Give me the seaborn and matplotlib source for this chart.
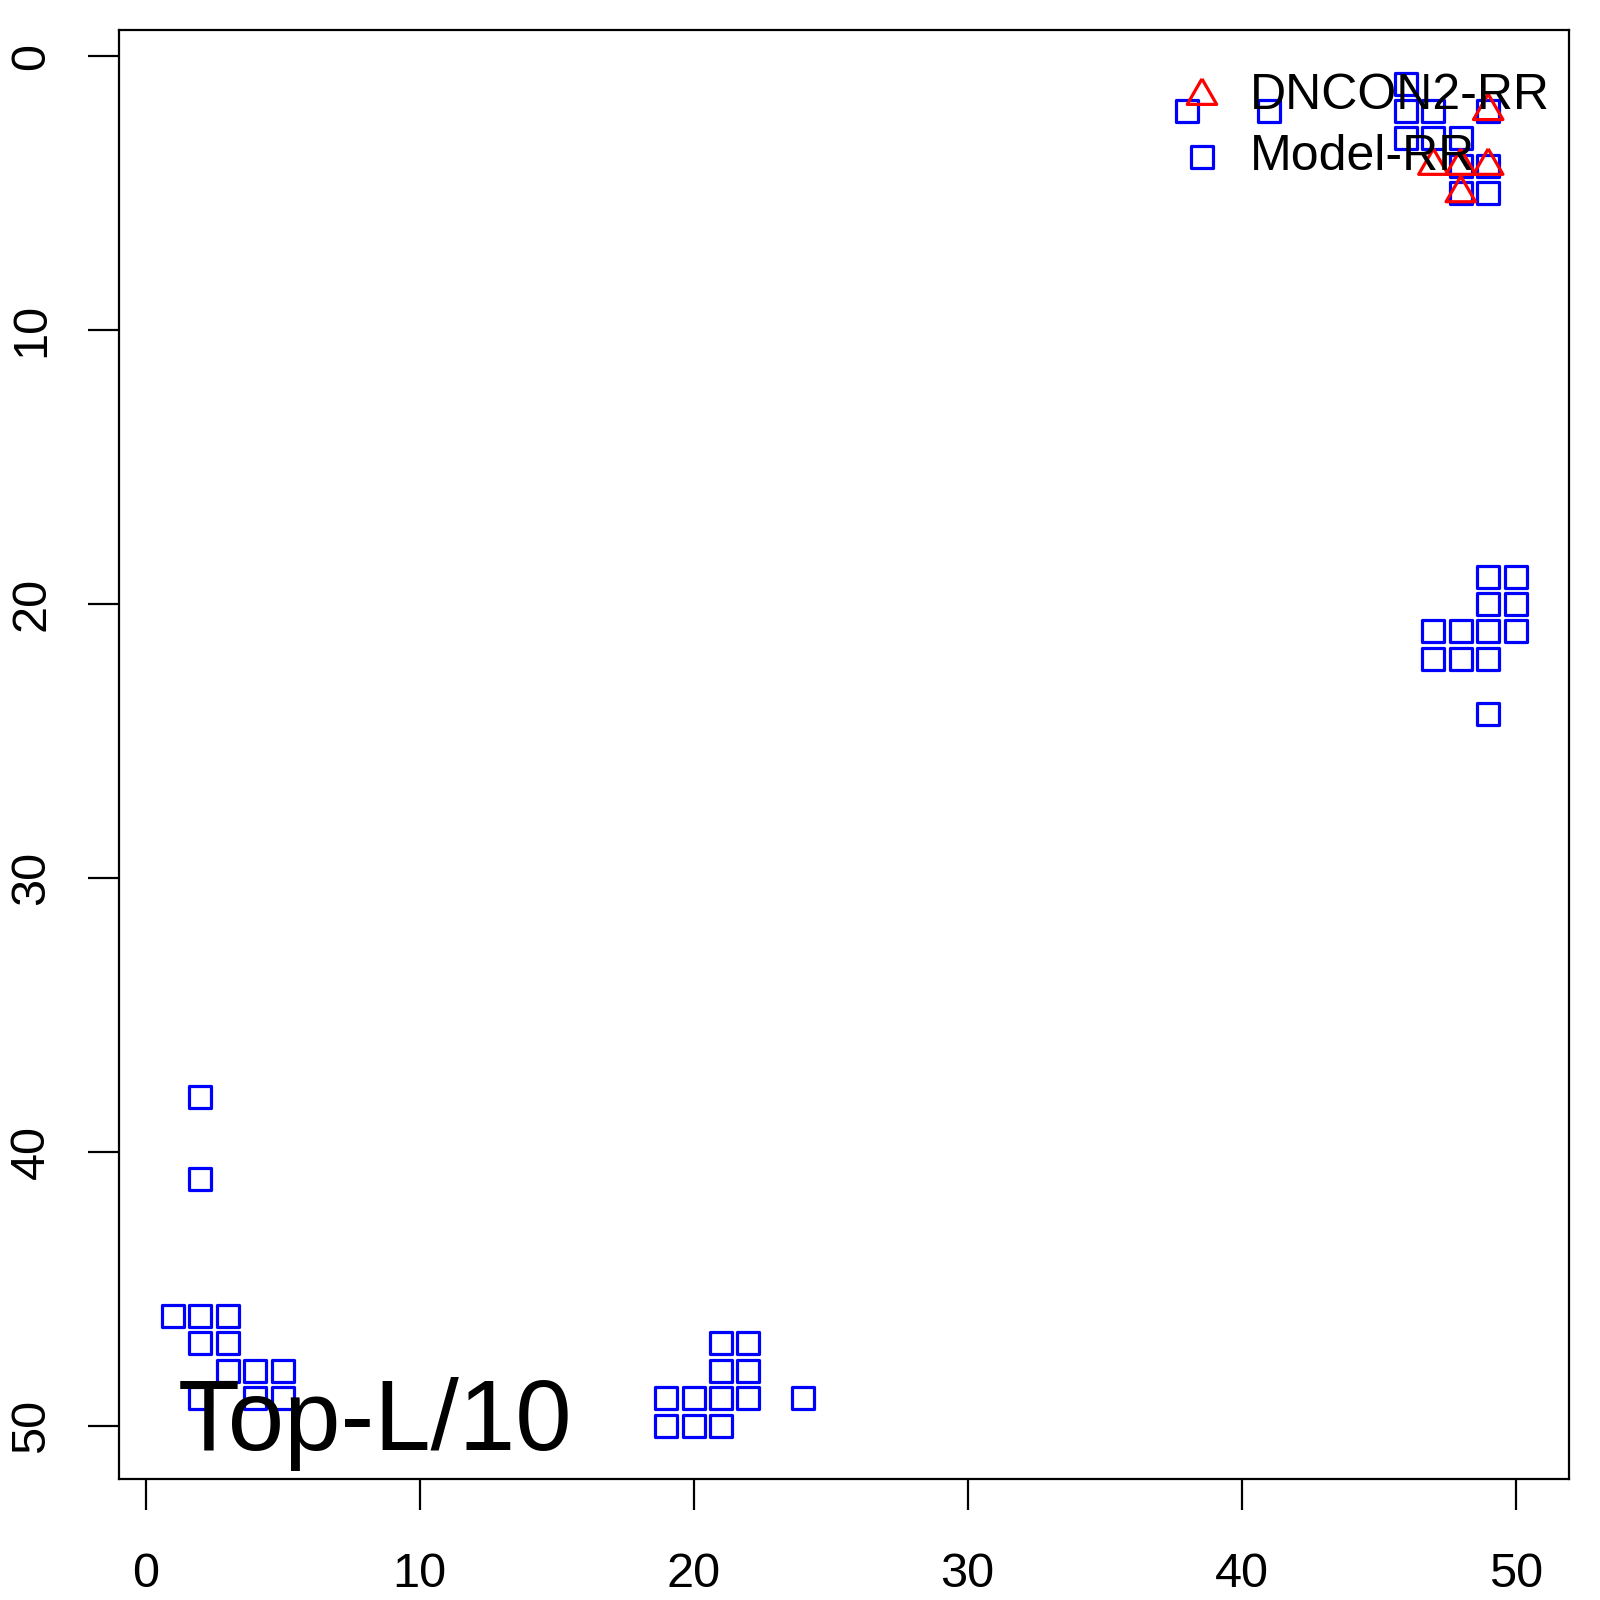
import numpy as np
import pandas as pd
import matplotlib
matplotlib.use("Agg")
import matplotlib.pyplot as plt
import seaborn as sns

# Model-RR contacts (squares)
model_x = [38, 41, 46, 46, 47, 49, 46, 47, 48, 48, 49, 48, 49,
           49, 50, 49, 50, 47, 48, 49, 50, 47, 48, 49, 49,
           2, 2, 1, 2, 3, 2, 3, 3, 4, 5, 2, 4, 5,
           21, 22, 21, 22, 19, 20, 21, 22, 24, 19, 20, 21]
model_y = [2, 2, 1, 2, 2, 2, 3, 3, 3, 4, 4, 5, 5,
           19, 19, 20, 20, 21, 21, 21, 21, 22, 22, 22, 24,
           38, 41, 46, 46, 46, 47, 47, 48, 48, 48, 49, 49, 49,
           47, 47, 48, 48, 49, 49, 49, 49, 49, 50, 50, 50]

# DNCON2-RR contacts (triangles)
dncon_x = [49, 47, 48, 49, 48]
dncon_y = [2, 4, 4, 4, 5]

ticks = [0, 10, 20, 30, 40, 50]
label_text = "Top-L/10"

model = pd.DataFrame({"x": model_x, "y": model_y})
dncon = pd.DataFrame({"x": dncon_x, "y": dncon_y})

sns.set_style("white")
plt.rcParams["font.family"] = ["Liberation Sans", "DejaVu Sans"]
plt.rcParams["text.color"] = "black"

fig = plt.figure(figsize=(16, 16), dpi=100)
ax = fig.add_axes([119.3 / 1600, 1 - 1479.3 / 1600, 1450 / 1600, 1449.3 / 1600])

# R-style equilateral triangle (pch = 2), closed outline
tri = [(0, 1.555), (1.347, -0.778), (-1.347, -0.778), (0, 1.555)]

sns.scatterplot(data=model, x="x", y="y", marker="s", s=250,
                facecolor="none", edgecolor="blue", linewidth=2.3,
                label="Model-RR", ax=ax, zorder=3)
sns.scatterplot(data=dncon, x="x", y="y", marker=tri, s=600,
                facecolor="none", edgecolor="red", linewidth=2.3,
                label="DNCON2-RR", ax=ax, zorder=4)

ax.set_xlim(-0.96, 51.96)
ax.set_ylim(51.96, -0.96)
ax.set_xticks(ticks)
ax.set_yticks(ticks)
ax.set_xlabel("")
ax.set_ylabel("")

for s in ax.spines.values():
    s.set_visible(True)
    s.set_color("black")
    s.set_linewidth(1.6)

ax.tick_params(axis="both", direction="out", length=22, width=1.6,
               labelsize=35, bottom=True, left=True, colors="black")
ax.tick_params(axis="x", pad=30)
ax.tick_params(axis="y", pad=25)
for lab in ax.get_yticklabels():
    lab.set_rotation(90)
    lab.set_va("center")

ax.text(8.36, 50.88, label_text, fontsize=73, ha="center", va="baseline",
        color="black")

h, l = ax.get_legend_handles_labels()
leg = ax.legend([h[1], h[0]], [l[1], l[0]], loc="upper left",
                bbox_to_anchor=(1177.7 / 1600, 1 - 73 / 1600),
                bbox_transform=fig.transFigure, frameon=False,
                fontsize=36, handlelength=0.97, handletextpad=0.48,
                labelspacing=0.3, borderpad=0, borderaxespad=0)
for t in leg.get_texts():
    t.set_color("black")
leg.set_zorder(10)

fig.savefig("out.png", dpi=100, facecolor="white")
